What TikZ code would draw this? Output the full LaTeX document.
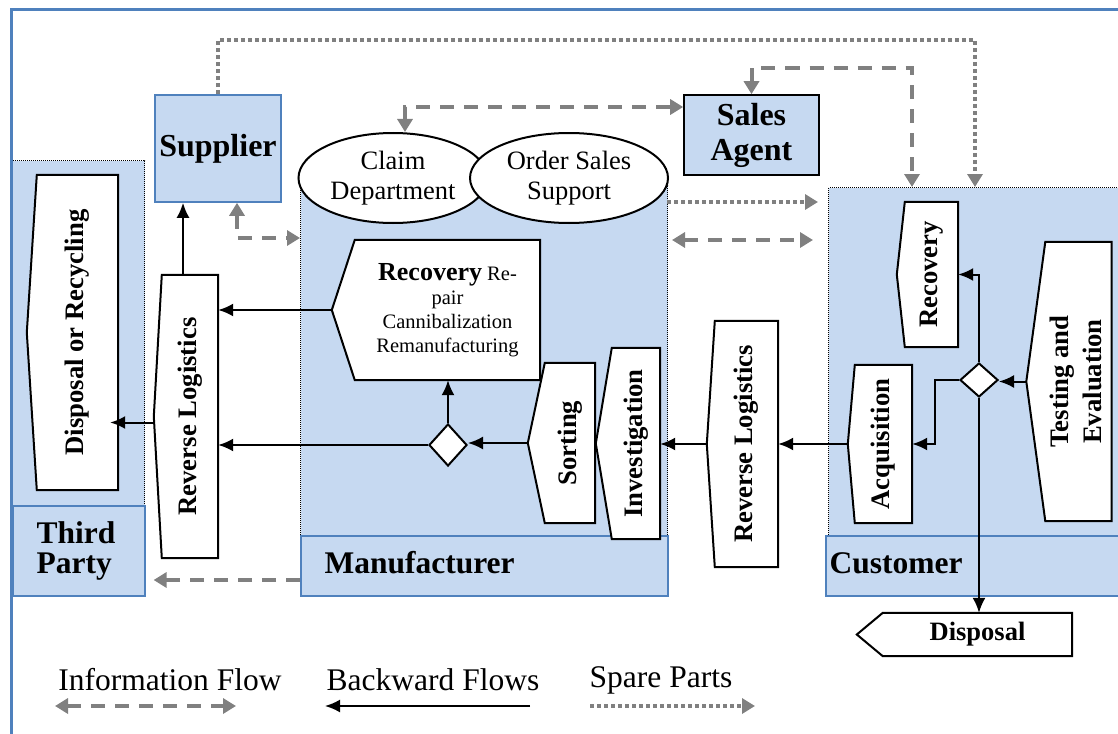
\documentclass[tikz,border=0pt]{standalone}
\usepackage{fontspec}
\setmainfont{Liberation Serif}
\usetikzlibrary{arrows.meta,shapes.geometric}
\definecolor{regfill}{RGB}{198,217,241}
\definecolor{tagline}{RGB}{79,129,189}
\definecolor{flowgray}{RGB}{128,128,128}
\pgfdeclarelayer{background}
\pgfdeclarelayer{shapes}
\pgfsetlayers{background,shapes,main}
% white outline with a point on the left, drawn under the node #1
\newcommand{\pointbox}[2]{%
  \begin{pgfonlayer}{shapes}
    \draw[box] (#1.north east) -- (#1.north west)
      -- ([xshift=-#2]#1.west) coordinate (#1-tip)
      -- (#1.south west) -- (#1.south east) -- cycle;
  \end{pgfonlayer}}

\begin{document}
\begin{tikzpicture}[x=1pt,y=-1pt,>={Latex[length=15pt,width=13pt]},
    region/.style={fill=regfill,draw=black,dash pattern=on 1pt off 1pt,line width=1.1pt,inner sep=0pt,anchor=north west},
    tag/.style={fill=regfill,draw=tagline,line width=1.6pt,inner sep=0pt,anchor=north west},
    party/.style={font=\bfseries\fontsize{31.5}{30}\selectfont,align=left},
    actor/.style={fill=regfill,line width=1.6pt,inner sep=0pt,align=center,font=\bfseries\fontsize{32}{35}\selectfont},
    box/.style={draw=black,fill=white,line width=2pt},
    stage/.style={inner sep=0pt,font=\bfseries\fontsize{26.7}{33}\selectfont},
    dept/.style={ellipse,draw=black,fill=white,line width=2pt,inner sep=0pt,align=center,minimum height=90pt,font=\fontsize{26.5}{30}\selectfont},
    choice/.style={diamond,draw=black,fill=white,line width=2pt,inner sep=0pt,minimum width=38pt},
    back/.style={->,line width=2pt},
    info/.style={draw=flowgray,line width=4pt,dash pattern=on 14pt off 10pt,>={Triangle[length=13pt,width=15pt]}},
    spare/.style={draw=flowgray,line width=4pt,dash pattern=on 4pt off 3pt,>={Triangle[length=13pt,width=15pt]}},
    legend/.style={font=\fontsize{31.5}{33}\selectfont}]
  \useasboundingbox (0,0) rectangle (1118,733);
  \clip (0,0) rectangle (1118,733);
  \draw[tagline,line width=3pt] (11,10) rectangle (1140,760);

  % the three parties
  \begin{pgfonlayer}{background}
    \node[region,minimum width=132pt,minimum height=345pt] (treg) at (12,160) {};
    \node[tag,minimum width=132pt,minimum height=90pt] (ttag) at (12,505) {};
    \node[region,minimum width=367pt,minimum height=350pt] (mreg) at (300,185) {};
    \node[tag,minimum width=367pt,minimum height=60pt] (mtag) at (300,535) {};
    \node[region,minimum width=302pt,minimum height=348pt] (creg) at (828,187) {};
    \node[tag,minimum width=305pt,minimum height=60pt] (ctag) at (825,535) {};
  \end{pgfonlayer}
  \node[party,anchor=west] (third) at (33,551) {Third\\Party};
  \node[party,anchor=base west] (manu) at (321,573) {Manufacturer};
  \node[party,anchor=base west] (cust) at (826,573) {Customer};

  \node[actor,draw=tagline,minimum width=126pt,minimum height=107pt] (supp) at (218,148.5) {Supplier};
  \node[actor,draw=black,minimum width=135pt,minimum height=80pt] (sales) at (751.5,135) {Sales\\Agent};
  \node[dept,minimum width=189pt] (claim) at (393,178) {Claim\\Department};
  \node[dept,minimum width=198pt] (order) at (569,178) {Order Sales\\Support};

  % process steps
  \node[stage,minimum width=81pt,minimum height=315pt] (recyc) at (77.5,332.5) {\rotatebox{90}{Disposal or Recycling}};
  \pointbox{recyc}{10pt}
  \node[stage,minimum width=56pt,minimum height=283pt] (revl) at (190,416.5) {\rotatebox{90}{Reverse Logistics}};
  \pointbox{revl}{8pt}
  \node[stage,minimum width=185pt,minimum height=140pt,align=center,font=\fontsize{20.5}{24}\selectfont] (recov) at (447.5,310)
    {{\bfseries\fontsize{26}{27}\selectfont Recovery} Re-\\pair\\Cannibalization\\Remanufacturing};
  \pointbox{recov}{23pt}
  \node[stage,minimum width=50pt,minimum height=160pt] (sort) at (570,443) {\rotatebox{90}{Sorting}};
  \pointbox{sort}{17pt}
  \node[stage,minimum width=48pt,minimum height=191pt] (invest) at (636,443.5) {\rotatebox{90}{Investigation}};
  \pointbox{invest}{16pt}
  \node[stage,minimum width=63pt,minimum height=246pt] (revr) at (746.5,444) {\rotatebox{90}{Reverse Logistics}};
  \pointbox{revr}{8pt}
  \node[stage,minimum width=57pt,minimum height=158pt] (acq) at (883.5,444) {\rotatebox{90}{Acquisition}};
  \pointbox{acq}{7pt}
  \node[stage,minimum width=53pt,minimum height=145pt] (crec) at (931.5,274.5) {\rotatebox{90}{Recovery}};
  \pointbox{crec}{8pt}
  \node[stage,minimum width=63pt,minimum height=279pt] (test) at (1078.5,381.5)
    {\rotatebox{90}{\begin{tabular}{@{}c@{}}Testing and\\Evaluation\end{tabular}}};
  \pointbox{test}{19pt}
  \node[stage,minimum width=189pt,minimum height=43pt,font=\bfseries\fontsize{26.5}{27}\selectfont] (disp) at (977.5,634.5) {Disposal};
  \pointbox{disp}{26pt}

  \node[choice,minimum height=42pt] (mdia) at (448,445) {};
  \node[choice,minimum height=34pt] (cdia) at (979,380) {};

  % backward flows
  \draw[back] ([xshift=-7pt]revl.north) -- ([xshift=-7pt]revl.north |- supp.south);
  \draw[back,shorten >=-8pt] ([yshift=-6pt]revl-tip) -- ([yshift=-6pt]revl-tip -| recyc.east);
  \draw[back] (recov-tip) -- (recov-tip -| revl.east);
  \draw[back] (mdia.west) -- (mdia.west -| revl.east);
  \draw[back] (mdia.north) -- (mdia.north |- recov.south);
  \draw[back] (sort-tip) -- (sort-tip -| mdia.east);
  \draw[back] (revr-tip) -- (revr-tip -| invest.east);
  \draw[back] (acq-tip) -- (acq-tip -| revr.east);
  \draw[back] (test-tip) -- (test-tip -| cdia.east);
  \draw[back] (cdia.north) |- (crec.east);
  \coordinate (ca) at (935,444);
  \draw[back] (cdia.west) -| (ca) -- (acq.east);
  \draw[back] (cdia.south) -- (cdia.south |- disp.north);

  % spare parts
  \coordinate (sp1) at (218,40);
  \coordinate (sp2) at (975,40);
  \draw[spare,->] (supp.north) -- (sp1) -- (sp2) -- (sp2 |- creg.north);
  \coordinate (ms) at (667,202);
  \draw[spare,->,shorten >=10pt] (ms) -- (ms -| creg.west);

  % information flows
  \coordinate (ib) at (912,68);
  \draw[info,<->] (sales.north) |- (ib) -- (ib |- creg.north);
  \coordinate (ic) at (405,107);
  \draw[info,<->] (ic |- claim.north) -- (ic) -- (ic -| sales.west);
  \coordinate (is) at (237,238);
  \draw[info,<->] (is |- supp.south) -- (is) -- (is -| mreg.west);
  \coordinate (it) at (300,580);
  \draw[info,->,shorten >=8pt] (it) -- (it -| ttag.east);
  \coordinate (mi) at (672,240);
  \coordinate (ci) at (813,240);
  \draw[info,<->] (mi) -- (ci);

  % legend
  \node[legend] (linfo) at (170,680) {Information Flow};
  \node[legend] (lback) at (433,680) {Backward Flows};
  \node[legend] (lspare) at (661,680) {Spare Parts};
  \coordinate (l1) at (55,706);
  \coordinate (l2) at (236,706);
  \draw[info,<->] (l1) -- (l2);
  \coordinate (l3) at (530,706);
  \coordinate (l4) at (325,706);
  \draw[back] (l3) -- (l4);
  \coordinate (l5) at (590,706);
  \coordinate (l6) at (755,706);
  \draw[spare,->] (l5) -- (l6);
\end{tikzpicture}
\end{document}
